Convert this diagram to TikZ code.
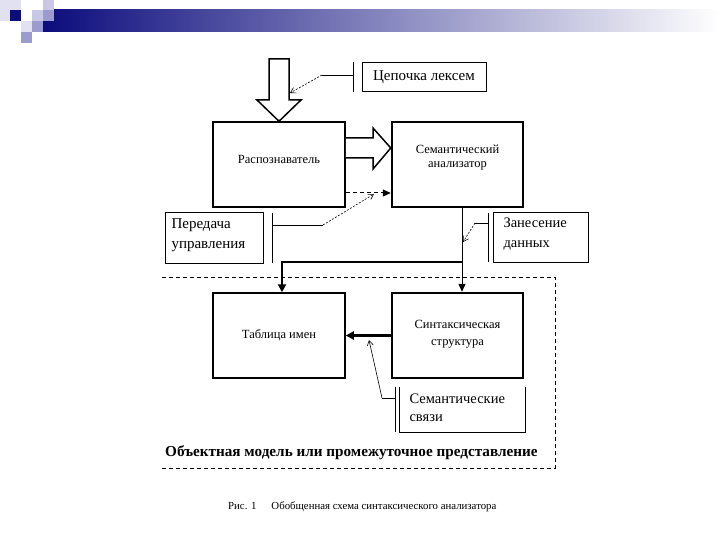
\documentclass[tikz,border=0pt]{standalone}
\usepackage{fontspec}
\setmainfont{Liberation Serif}
\usetikzlibrary{arrows.meta}
\definecolor{navy}{RGB}{12,12,125}
\definecolor{lav1}{RGB}{225,225,242}
\definecolor{lav2}{RGB}{200,200,230}
\definecolor{lav3}{RGB}{155,155,205}
\begin{document}
\begin{tikzpicture}[x=1pt,y=-1pt,
  box/.style={draw, line width=1.5pt, inner sep=0pt, align=center},
  thickbox/.style={box, line width=2.4pt},
  callbox/.style={draw, line width=1pt, inner sep=0pt},
  boxtext/.style={font=\fontsize{12.5}{16}\selectfont, align=center, inner sep=0pt},
  calltext/.style={font=\fontsize{15}{20}\selectfont},
  bigarrow/.style={draw, line width=1.5pt, fill=white, line join=miter},
  flow/.style={line width=1pt, -{Triangle[length=8pt,width=7pt]}},
  heavyflow/.style={line width=2.2pt, -{Triangle[length=8pt,width=8pt]}},
  callout/.style={line width=0.6pt, dashed, dash pattern=on 2pt off 1.5pt, -{Straight Barb[length=5pt,width=6pt]}},
  bracket/.style={line width=1pt}
]
\useasboundingbox (0,0) rectangle (720,540);
\fill[white] (0,0) rectangle (720,540);
% header
\shade[left color=navy, right color=white] (43,10) rectangle (720,32);
\fill[lav1] (0,0) rectangle (21,21);
\fill[navy] (10,10) rectangle (21,21);
\fill[lav2] (32,10) rectangle (43,21);
\fill[lav2] (43,0) rectangle (54,10);
\fill[lav3] (43,10) rectangle (54,21);
\fill[lav1] (21,21) rectangle (32,32);
\fill[lav3] (32,21) rectangle (43,32);
\fill[lav3] (21,32) rectangle (43,43);
\fill[white] (32,32) rectangle (43,43);

% main boxes
\node[box, minimum width=132pt, minimum height=85pt] (rec) at (279,164.5) {};
\node[boxtext] (rectext) at (279,159) {Распознаватель};
\node[thickbox, minimum width=131pt, minimum height=85pt] (sem) at (457.5,164.5) {};
\node[boxtext, font=\fontsize{12.5}{14}\selectfont] (semtext) at (457.5,158) {Семантический\\анализатор};
\node[box, minimum width=132pt, minimum height=85pt, boxtext] (tab) at (279,335.5) {Таблица имен};
\node[thickbox, minimum width=131pt, minimum height=85pt] (syn) at (457.5,335.5) {};
\node[boxtext, font=\fontsize{12.5}{17}\selectfont] (syntext) at (457.5,334) {Синтаксическая\\структура};

% callout boxes
\node[callbox, minimum width=124pt, minimum height=29pt, calltext] (lex) at (424,77.5) {Цепочка лексем};
\node[callbox, minimum width=98pt, minimum height=50pt] (ctl) at (214,238) {};
\node[calltext, anchor=west, align=left] (ctltext) at (168,235) {Передача\\управления};
\node[callbox, minimum width=95pt, minimum height=49pt] (dat) at (540.5,237.5) {};
\node[calltext, anchor=west, align=left, font=\fontsize{14.5}{20}\selectfont] (dattext) at (500,234) {Занесение\\данных};
\node[minimum width=125pt, minimum height=45pt, inner sep=0pt] (lnk) at (462.5,409.5) {};
\draw[line width=1pt] (lnk.north west) -- (lnk.south west) -- (lnk.south east) -- (lnk.north east);
\node[anchor=west, align=left, font=\fontsize{14.5}{18}\selectfont] (lnktext) at (406,408) {Семантические\\связи};

% brackets of callouts
\coordinate (lexb1) at (353,62);
\coordinate (lexb2) at (353,92);
\draw[bracket] (lexb1) -- (lexb2);
\coordinate (ctlb1) at (272,213);
\coordinate (ctlb2) at (272,263);
\draw[bracket] (ctlb1) -- (ctlb2);
\coordinate (datb1) at (488,213);
\coordinate (datb2) at (488,262);
\draw[bracket] (datb1) -- (datb2);
\coordinate (lnkb1) at (395,387);
\coordinate (lnkb2) at (395,432);
\draw[bracket] (lnkb1) -- (lnkb2);

% big input arrow
\draw[bigarrow] (269,59) -- (289,59) -- (289,100) -- (301,100) -- (rec.north) -- (257,100) -- (269,100) -- cycle;
% big arrow rec -> sem
\draw[bigarrow] (rec.east |- 0,138) -- (373,138) -- (373,128) -- (sem.west |- 0,148) -- (373,169) -- (373,158) -- (rec.east |- 0,158);

% dashed control arrow
\draw[flow, dashed, dash pattern=on 4pt off 3pt] (rec.east |- 0,193) -- (sem.west |- 0,193);

% data flows
\coordinate (split) at (462,262);
\coordinate (bend) at (282,262);
\draw[line width=1pt] (sem.south -| split) -- (split);
\draw[flow] (split) -- (syn.north -| split);
\draw[heavyflow] (split) -- (bend) -- (tab.north -| bend);
\draw[heavyflow] (syn.west) -- (tab.east);

% callout lines
\coordinate (lexk) at (322,75);
\coordinate (lexp) at (290,93);
\draw[line width=0.6pt] (lexb1 |- lexk) -- (lexk);
\draw[callout] (lexk) -- (lexp);
\coordinate (ctlk) at (323,225);
\coordinate (ctlp) at (374,194);
\draw[line width=0.6pt] (ctlb1 |- ctlk) -- (ctlk);
\draw[callout] (ctlk) -- (ctlp);
\coordinate (datk) at (475,223);
\coordinate (datp) at (463,242);
\draw[line width=0.6pt] (datb1 |- datk) -- (datk);
\draw[callout] (datk) -- (datp);
\coordinate (lnkk) at (382,398);
\coordinate (lnkp) at (369,340);
\draw[line width=0.6pt] (lnkb1 |- lnkk) -- (lnkk);
\draw[line width=0.6pt, -{Straight Barb[length=5pt,width=6pt]}] (lnkk) -- (lnkp);

% dashed region
\coordinate (r1) at (162,277);
\coordinate (r2) at (555,277);
\coordinate (r3) at (555,468);
\coordinate (r4) at (162,468);
\draw[line width=1pt, dash pattern=on 4pt off 3pt] (r1) -- (r2) -- (r3) -- (r4);
\node[anchor=west, font=\bfseries\fontsize{15.2}{17}\selectfont, inner sep=0pt] (region) at (165,453) {Объектная модель или промежуточное представление};

% caption
\node[font=\fontsize{10.8}{12}\selectfont, anchor=west, inner sep=0pt] (caption) at (228,507) {Рис. 1\hspace{15pt}Обобщенная схема синтаксического анализатора};
\end{tikzpicture}
\end{document}
